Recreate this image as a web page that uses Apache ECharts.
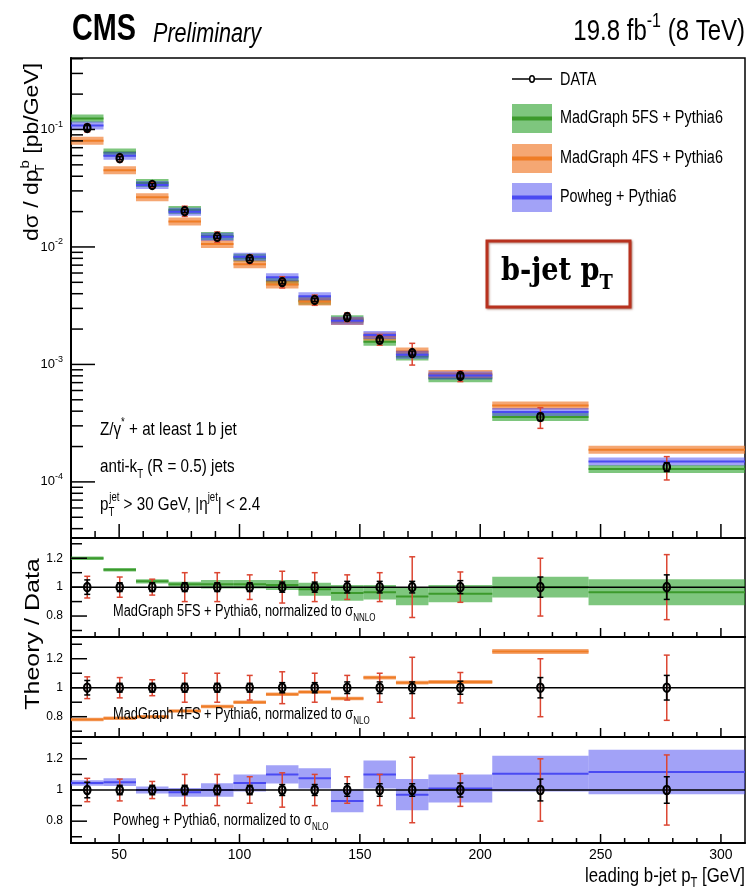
<!DOCTYPE html>
<html><head><meta charset="utf-8">
<script src="https://cdn.jsdelivr.net/npm/echarts@6/dist/echarts.min.js"></script>
<style>html,body{margin:0;padding:0;background:#fff}#c{width:755px;height:894px}</style>
</head><body><div id="c"></div>
<script>
// ---------------- data ----------------
const binEdges = [30, 43.5, 57, 70.5, 84, 97.5, 111, 124.5, 138, 151.5, 165, 178.5, 205, 245, 310];
const binCenters = [36.75, 50.25, 63.75, 77.25, 90.75, 104.25, 117.75, 131.25, 144.75, 158.25, 171.75, 191.75, 225, 277.5];

// measured cross section [pb/GeV]
const dataXsec = [0.103, 0.057, 0.0337, 0.0202, 0.0122, 0.0079, 0.00503, 0.00354, 0.00253, 0.00162, 0.00125, 0.000798, 0.000357, 0.000134];
// relative uncertainties (total = red, statistical = black)
const dataTotErr = [0.075, 0.07, 0.055, 0.10, 0.10, 0.085, 0.11, 0.10, 0.085, 0.10, 0.21, 0.105, 0.20, 0.225];
const dataStatErr = [0.05, 0.03, 0.03, 0.03, 0.03, 0.03, 0.035, 0.035, 0.04, 0.04, 0.04, 0.045, 0.07, 0.085];
const dataRatio = [1, 1, 1, 1, 1, 1, 1, 1, 1, 1, 1, 1, 1, 1];

// theory predictions in the upper panel [pb/GeV]
const mg5Main = [0.124, 0.0638, 0.0350, 0.0206, 0.0124, 0.0081, 0.0051, 0.00349, 0.00243, 0.00156, 0.00117, 0.000762, 0.000357, 0.000129];
const mg4Main = [0.0803, 0.0450, 0.0265, 0.0165, 0.0106, 0.00711, 0.00480, 0.00343, 0.00234, 0.00173, 0.00129, 0.000830, 0.000446, 0.000188];
const powMain = [0.108, 0.0599, 0.0337, 0.0199, 0.0122, 0.00826, 0.00553, 0.00381, 0.00235, 0.00178, 0.00121, 0.000806, 0.000394, 0.000149];

// theory / data ratios and their half-band widths
const mg5Ratio = [1.20, 1.12, 1.04, 1.02, 1.02, 1.02, 1.015, 0.985, 0.96, 0.965, 0.935, 0.955, 1.0, 0.965];
const mg5Unc   = [0.012, 0.012, 0.014, 0.018, 0.03, 0.03, 0.035, 0.045, 0.055, 0.05, 0.06, 0.06, 0.072, 0.09];
const mg4Ratio = [0.78, 0.79, 0.80, 0.84, 0.87, 0.90, 0.955, 0.97, 0.925, 1.07, 1.035, 1.04, 1.25, 1.40];
const mg4Unc   = [0.012, 0.012, 0.012, 0.012, 0.012, 0.012, 0.012, 0.012, 0.012, 0.013, 0.013, 0.014, 0.017, 0.02];
const powRatio = [1.045, 1.05, 1.0, 0.985, 1.0, 1.045, 1.1, 1.075, 0.93, 1.1, 0.97, 1.01, 1.105, 1.115];
const powUnc   = [0.018, 0.025, 0.022, 0.028, 0.043, 0.055, 0.058, 0.065, 0.073, 0.09, 0.10, 0.09, 0.115, 0.143];

// tick values
const xMinorTicks = [40, 60, 70, 80, 90, 110, 120, 130, 140, 160, 170, 180, 190, 210, 220, 230, 240, 260, 270, 280, 290];
const xMajorTicks = [50, 100, 150, 200, 250, 300];
const xLabelValues = [50, 100, 150, 200, 250, 300];
const logMajorTicks = [1e-4, 1e-3, 1e-2, 1e-1];
const logMinorTicks = [4e-5, 5e-5, 6e-5, 7e-5, 8e-5, 9e-5, 2e-4, 3e-4, 4e-4, 5e-4, 6e-4, 7e-4, 8e-4, 9e-4,
  2e-3, 3e-3, 4e-3, 5e-3, 6e-3, 7e-3, 8e-3, 9e-3, 2e-2, 3e-2, 4e-2, 5e-2, 6e-2, 7e-2, 8e-2, 9e-2, 2e-1, 3e-1, 4e-1];
const ratioMajorTicks = [0.8, 1.0, 1.2];
const ratioMinorTicks = [0.7, 0.9, 1.1, 1.3];
const ratioLabelValues = [0.8, 1.0, 1.2];

// ---------------- styles ----------------
const SANS = 'Liberation Sans';
const NARROW = "'Liberation Sans Narrow', 'Liberation Sans', Arial, sans-serif";
const GREEN = {fill: 'rgba(40,160,40,0.6)', line: '#3c9a2c'};
const ORANGE = {fill: 'rgba(240,120,40,0.65)', line: '#ef7d26'};
const BLUE = {fill: 'rgba(70,70,240,0.5)', line: '#4a4af2'};
const RED = '#dc4632';

const chart = echarts.init(document.getElementById('c'), null, {renderer: 'canvas'});

const grids = [
  {left: 71, top: 58, width: 674, height: 480},
  {left: 71, top: 538, width: 674, height: 99},
  {left: 71, top: 637, width: 674, height: 100},
  {left: 71, top: 737, width: 674, height: 106}
].map(g => Object.assign({show: true, borderColor: '#000', borderWidth: 1.5, backgroundColor: 'transparent'}, g));

const xAxes = grids.map((g, i) => ({
  type: 'value', gridIndex: i, min: 30, max: 310, interval: 10,
  axisLine: {show: true, onZero: false, lineStyle: {color: '#000', width: 2}},
  axisTick: {show: false}, splitLine: {show: false},
  axisLabel: i === 3 ? {
    show: true, interval: 0, margin: 5, color: '#000', fontFamily: NARROW, fontSize: 14,
    showMinLabel: false, showMaxLabel: false,
    formatter: v => xLabelValues.some(t => Math.abs(t - v) < 1e-6) ? String(v) : ''
  } : {show: false}
}));

const yAxes = [
  {
    type: 'log', logBase: 10, gridIndex: 0, min: 3.33e-5, max: 0.406,
    axisLine: {show: true, lineStyle: {color: '#000', width: 2}},
    axisTick: {show: false}, splitLine: {show: false}, minorTick: {show: false},
    axisLabel: {
      show: true, margin: 8, color: '#000', showMinLabel: false, showMaxLabel: false,
      formatter: v => {
        const e = Math.round(Math.log10(v));
        if (Math.abs(Math.log10(v) - e) > 1e-6) return '';
        return '{b|10}{e|' + e + '}';
      },
      rich: {
        b: {fontFamily: NARROW, fontSize: 13, lineHeight: 19, verticalAlign: 'middle', color: '#000'},
        e: {fontFamily: NARROW, fontSize: 9, lineHeight: 9, verticalAlign: 'top', color: '#000'}
      }
    }
  }
];
const ratioRanges = [[0.655, 1.34], [0.66, 1.35], [0.66, 1.34]];
ratioRanges.forEach((r, k) => {
  yAxes.push({
    type: 'value', gridIndex: k + 1, min: r[0], max: r[1],
    axisLine: {show: true, onZero: false, lineStyle: {color: '#000', width: 2}},
    axisTick: {show: false}, splitLine: {show: false},
    axisLabel: {
      show: true, margin: 8, color: '#000', fontFamily: NARROW, fontSize: 12,
      showMinLabel: false, showMaxLabel: false,
      formatter: v => ratioLabelValues.some(t => Math.abs(t - v) < 1e-6) ? String(Math.round(v * 10) / 10) : ''
    }
  });
});

// ---------------- series helpers ----------------
function tickSeries(gi, values, dir, len, refOther) {
  return {
    type: 'custom', xAxisIndex: gi, yAxisIndex: gi, silent: true, z: 20, clip: false,
    data: values.map(v => dir === 'x' ? [v, refOther] : [refOther, v]),
    renderItem: (params, api) => {
      const cs = params.coordSys;
      if (dir === 'x') {
        const px = api.coord([api.value(0), refOther])[0];
        const yb = cs.y + cs.height;
        return {type: 'line', shape: {x1: px, y1: yb, x2: px, y2: yb - len}, style: {stroke: '#000', lineWidth: 1.5}};
      }
      const py = api.coord([refOther, api.value(1)])[1];
      return {type: 'line', shape: {x1: cs.x, y1: py, x2: cs.x + len, y2: py}, style: {stroke: '#000', lineWidth: 1.5}};
    }
  };
}

function bandSeries(gi, values, uncs, col, mainMode) {
  return {
    type: 'custom', xAxisIndex: gi, yAxisIndex: gi, silent: true, z: 5, clip: false,
    data: values.map((v, i) => [binEdges[i], binEdges[i + 1], v, uncs ? uncs[i] : 0]),
    renderItem: (params, api) => {
      const cs = params.coordSys;
      const x0 = api.value(0), x1 = api.value(1), v = api.value(2), u = api.value(3);
      const p0 = api.coord([x0, v]), p1 = api.coord([x1, v]);
      let top, bot;
      if (mainMode) { top = p0[1] - 4; bot = p0[1] + 4; }
      else { top = api.coord([x0, v + u])[1]; bot = api.coord([x0, v - u])[1]; }
      const rect = echarts.graphic.clipRectByRect({x: p0[0], y: top, width: p1[0] - p0[0], height: bot - top}, cs);
      const line = echarts.graphic.clipRectByRect({x: p0[0], y: p0[1] - 1, width: p1[0] - p0[0], height: 2}, cs);
      const ch = [];
      if (rect) ch.push({type: 'rect', shape: rect, style: {fill: col.fill}});
      if (line) ch.push({type: 'rect', shape: line, style: {fill: col.line}});
      return {type: 'group', children: ch};
    }
  };
}

function dataSeries(gi, yvals) {
  return {
    type: 'custom', xAxisIndex: gi, yAxisIndex: gi, silent: true, z: 15, clip: false,
    data: yvals.map((y, i) => [binCenters[i], y, dataTotErr[i], dataStatErr[i]]),
    renderItem: (params, api) => {
      const x = api.value(0), y = api.value(1), te = api.value(2), se = api.value(3);
      const c = api.coord([x, y]);
      const tHi = api.coord([x, y * (1 + te)])[1], tLo = api.coord([x, y * (1 - te)])[1];
      const sHi = api.coord([x, y * (1 + se)])[1], sLo = api.coord([x, y * (1 - se)])[1];
      const cw = 3;
      const L = (x1, y1, x2, y2, s, w) => ({type: 'line', shape: {x1, y1, x2, y2}, style: {stroke: s, lineWidth: w}});
      return {type: 'group', children: [
        L(c[0], tLo, c[0], tHi, RED, 1.5),
        L(c[0] - cw, tHi, c[0] + cw, tHi, RED, 1.5),
        L(c[0] - cw, tLo, c[0] + cw, tLo, RED, 1.5),
        L(c[0], sLo, c[0], sHi, '#000', 1.8),
        L(c[0] - cw, sHi, c[0] + cw, sHi, '#000', 1.5),
        L(c[0] - cw, sLo, c[0] + cw, sLo, '#000', 1.5),
        {type: 'ellipse', shape: {cx: c[0], cy: c[1], rx: 3.2, ry: 4.2}, style: {fill: 'none', stroke: '#000', lineWidth: 2.2}}
      ]};
    }
  };
}

function unitySeries(gi) {
  return {
    type: 'custom', xAxisIndex: gi, yAxisIndex: gi, silent: true, z: 10, clip: false,
    data: [[30, 1]],
    renderItem: (params, api) => {
      const cs = params.coordSys;
      const py = api.coord([30, 1])[1];
      return {type: 'line', shape: {x1: cs.x, y1: py, x2: cs.x + cs.width, y2: py}, style: {stroke: '#000', lineWidth: 1.5}};
    }
  };
}

const series = [];
// upper panel
series.push(bandSeries(0, mg5Main, null, GREEN, true));
series.push(bandSeries(0, mg4Main, null, ORANGE, true));
series.push(bandSeries(0, powMain, null, BLUE, true));
series.push(dataSeries(0, dataXsec));
// ratio panels
series.push(bandSeries(1, mg5Ratio, mg5Unc, GREEN, false));
series.push(bandSeries(2, mg4Ratio, mg4Unc, ORANGE, false));
series.push(bandSeries(3, powRatio, powUnc, BLUE, false));
[1, 2, 3].forEach(gi => { series.push(unitySeries(gi)); series.push(dataSeries(gi, dataRatio)); });

// ticks
series.push(tickSeries(0, xMinorTicks, 'x', 7, 1e-3));
series.push(tickSeries(0, xMajorTicks, 'x', 14, 1e-3));
series.push(tickSeries(0, logMinorTicks, 'y', 12, 35));
series.push(tickSeries(0, logMajorTicks, 'y', 24, 35));
[1, 2, 3].forEach(gi => {
  series.push(tickSeries(gi, xMinorTicks, 'x', 5, 1));
  series.push(tickSeries(gi, xMajorTicks, 'x', 9, 1));
  series.push(tickSeries(gi, ratioMinorTicks, 'y', 11, 35));
  series.push(tickSeries(gi, ratioMajorTicks, 'y', 16, 35));
});

// ---------------- text / legend graphics ----------------
function rich(F, extra) {
  const s = Math.round(F * 0.65);
  const base = Object.assign({fontFamily: SANS, fill: '#000'}, extra || {});
  return {
    n: Object.assign({}, base, {fontSize: F, lineHeight: Math.round(F * 1.4), verticalAlign: 'middle'}),
    sup: Object.assign({}, base, {fontSize: s, lineHeight: s, verticalAlign: 'top'}),
    sub: Object.assign({}, base, {fontSize: s, lineHeight: s, verticalAlign: 'bottom'}),
    subz: Object.assign({}, base, {fontSize: s, lineHeight: s, verticalAlign: 'bottom', width: 1})
  };
}
function txt(x, y, text, F, opts) {
  opts = opts || {};
  return {
    type: 'text', x, y, z: 100, silent: true,
    rotation: opts.rotation || 0,
    scaleX: opts.scaleX != null ? opts.scaleX : 0.8,
    scaleY: opts.scaleY != null ? opts.scaleY : 1,
    style: {
      text, rich: rich(F, opts.extra), fill: '#000',
      align: opts.align || 'left', verticalAlign: 'middle'
    }
  };
}

const graphic = [
  // header
  txt(72, 30, '{n|CMS}', 36, {extra: {fontWeight: 'bold'}}),
  txt(153, 34, '{n|Preliminary}', 27, {extra: {fontStyle: 'italic'}}),
  txt(745, 32, '{n|19.8 fb}{sup|-1}{n| (8 TeV)}', 30, {align: 'right'}),
  // axis titles
  txt(33, 152, '{n|dσ / dp}{subz|T}{sup|b}{n| [pb/GeV]}', 23, {rotation: Math.PI / 2, align: 'center', scaleX: 1, scaleY: 0.85}),
  txt(33, 634, '{n|Theory / Data}', 25, {rotation: Math.PI / 2, align: 'center', scaleX: 1, scaleY: 0.8}),
  txt(745, 876, '{n|leading b-jet p}{sub|T}{n| [GeV]}', 21, {align: 'right'}),
  // legend
  {type: 'line', z: 100, shape: {x1: 512, y1: 79, x2: 552, y2: 79}, style: {stroke: '#000', lineWidth: 1.5}},
  {type: 'ellipse', z: 101, shape: {cx: 532, cy: 79, rx: 2.3, ry: 3.2}, style: {fill: '#fff', stroke: '#000', lineWidth: 1.5}},
  txt(560, 80, '{n|DATA}', 18),
  {type: 'rect', z: 100, shape: {x: 512, y: 104, width: 40, height: 29}, style: {fill: 'rgba(40,160,40,0.6)'}},
  {type: 'rect', z: 101, shape: {x: 512, y: 116.5, width: 40, height: 4}, style: {fill: GREEN.line}},
  txt(560, 118, '{n|MadGraph 5FS + Pythia6}', 18),
  {type: 'rect', z: 100, shape: {x: 512, y: 144, width: 40, height: 29}, style: {fill: 'rgba(240,120,40,0.65)'}},
  {type: 'rect', z: 101, shape: {x: 512, y: 156.5, width: 40, height: 4}, style: {fill: ORANGE.line}},
  txt(560, 158, '{n|MadGraph 4FS + Pythia6}', 18),
  {type: 'rect', z: 100, shape: {x: 512, y: 183, width: 40, height: 29}, style: {fill: 'rgba(70,70,240,0.5)'}},
  {type: 'rect', z: 101, shape: {x: 512, y: 195.5, width: 40, height: 4}, style: {fill: BLUE.line}},
  txt(560, 197, '{n|Powheg + Pythia6}', 18),
  // b-jet pT box
  {type: 'rect', z: 100, shape: {x: 487, y: 241, width: 143, height: 66},
    style: {fill: '#fff', stroke: '#b8321f', lineWidth: 3, shadowBlur: 2, shadowColor: 'rgba(120,40,20,0.5)', shadowOffsetX: 1, shadowOffsetY: 1}},
  txt(557, 272, '{n|b-jet p}{sub|T}', 32, {align: 'center', scaleX: 0.85, extra: {fontFamily: 'DejaVu Serif', fontWeight: 'bold'}}),
  // selection annotations
  txt(100, 430, '{n|Z/γ}{sup|*}{n| + at least 1 b jet}', 19),
  txt(100, 467, '{n|anti-k}{sub|T}{n| (R = 0.5) jets}', 19),
  txt(100, 505, '{n|p}{subz|T}{sup|jet}{n| > 30 GeV, |η}{sup|jet}{n|| < 2.4}', 19),
  // ratio panel captions
  txt(113, 612, '{n|MadGraph 5FS + Pythia6, normalized to σ}{sub|NNLO}', 16),
  txt(113, 715, '{n|MadGraph 4FS + Pythia6, normalized to σ}{sub|NLO}', 16),
  txt(113, 821, '{n|Powheg + Pythia6, normalized to σ}{sub|NLO}', 16)
];

chart.setOption({
  animation: false,
  backgroundColor: '#fff',
  grid: grids,
  xAxis: xAxes,
  yAxis: yAxes,
  series,
  graphic
});
</script></body></html>
